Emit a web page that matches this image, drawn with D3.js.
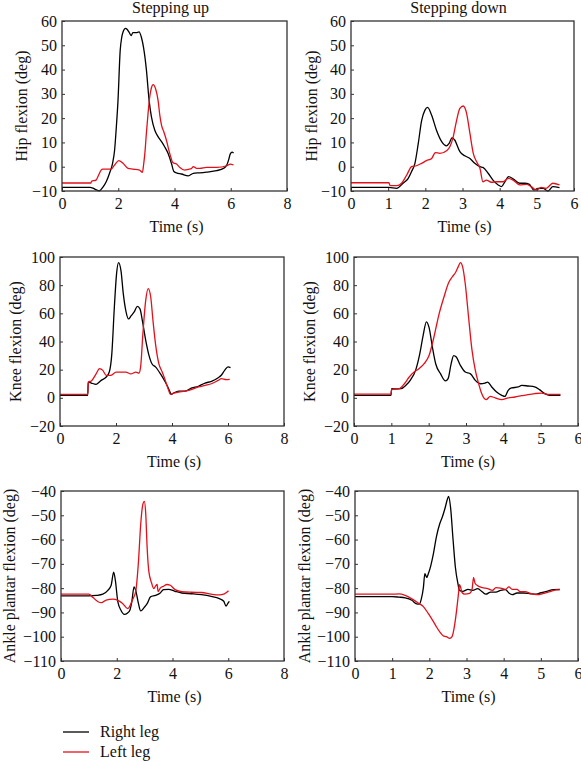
<!DOCTYPE html>
<html><head><meta charset="utf-8">
<script src="https://cdn.jsdelivr.net/npm/d3@7"></script>
<style>body{margin:0;background:#fff}svg{display:block}</style>
</head><body>
<svg id="c" width="581" height="762"></svg>
<script>
const seriesNames = ["Right leg", "Left leg"];
const colTitles = ["Stepping up", "Stepping down"];
const rowLabels = ["Hip flexion (deg)", "Knee flexion (deg)", "Ankle plantar flexion (deg)"];
const xLabel = "Time (s)";
const xTicksUp = [0, 2, 4, 6, 8];
const xTicksDown = [0, 1, 2, 3, 4, 5, 6];
const hipTicks = [-10, 0, 10, 20, 30, 40, 50, 60];
const kneeTicks = [-20, 0, 20, 40, 60, 80, 100];
const ankleTicks = [-110, -100, -90, -80, -70, -60, -50, -40];

const hipUpRight = [[0,-8.5],[1.0,-8.5],[1.1,-8.8],[1.2,-9.4],[1.33,-9.9],[1.45,-8.5],[1.58,-6],[1.69,-2.7],[1.8,1.5],[1.87,6.8],[1.93,16],[1.99,27],[2.07,48],[2.12,53],[2.17,55.5],[2.26,57],[2.32,56.5],[2.38,55.5],[2.46,54],[2.52,55.2],[2.64,55.2],[2.74,55.5],[2.82,53.4],[2.9,49],[3.0,40],[3.1,27],[3.18,20.5],[3.3,15],[3.42,12.3],[3.54,10.3],[3.65,8.2],[3.77,5.5],[3.89,1.4],[3.98,-2],[4.07,-2.5],[4.25,-3],[4.49,-3.8],[4.67,-2.7],[4.9,-2.5],[5.14,-2.2],[5.5,-1.6],[5.74,-0.7],[5.86,0.7],[5.93,3],[5.98,5.2],[6.05,6],[6.1,5.6]];
const hipUpLeft = [[0,-6.7],[1.03,-6.7],[1.05,-6],[1.21,-5.5],[1.3,-3.5],[1.39,-1.4],[1.45,-1],[1.75,-1],[1.87,0.7],[2.02,2.5],[2.17,1.4],[2.35,-0.7],[2.52,-1],[2.76,-1.4],[2.86,-2.3],[2.9,0.7],[2.95,6],[3.0,13.7],[3.06,22],[3.12,28.8],[3.18,32.5],[3.24,33.8],[3.33,32],[3.42,27],[3.48,21],[3.54,17],[3.62,14.4],[3.71,11],[3.83,5.5],[3.95,1.6],[4.07,1.1],[4.19,-0.3],[4.37,-1.4],[4.49,-1.1],[4.6,-0.8],[4.67,0],[4.79,-0.7],[4.9,-0.7],[5.14,-0.3],[5.5,-0.3],[5.86,0.4],[5.98,1.1],[6.1,0.7]];
const hipDownRight = [[0,-8.5],[1.02,-8.5],[1.23,-8.9],[1.4,-6.8],[1.54,-4.8],[1.63,-2],[1.72,1.4],[1.81,9.6],[1.9,19],[1.99,23.3],[2.06,24.4],[2.17,21.2],[2.3,15],[2.44,10.3],[2.57,8.6],[2.64,9.6],[2.72,12],[2.79,11],[2.93,6.2],[3.06,4.5],[3.2,3.4],[3.33,1.4],[3.47,0],[3.55,-0.3],[3.69,-2.7],[3.82,-5.5],[3.96,-7.5],[4.05,-8.2],[4.14,-6.2],[4.24,-4.1],[4.36,-5],[4.54,-6.8],[4.67,-6.8],[4.8,-7.3],[4.92,-9.6],[5.03,-8.9],[5.17,-8.9],[5.3,-10],[5.43,-8.2],[5.61,-8.6]];
const hipDownLeft = [[0,-6.6],[1.02,-6.6],[1.05,-7.8],[1.23,-7.8],[1.36,-6.8],[1.5,-3.4],[1.63,0],[1.76,0.4],[1.9,1.4],[2.03,2.5],[2.17,3.4],[2.27,5.8],[2.39,5.5],[2.57,6.6],[2.66,8.2],[2.75,12.3],[2.84,19],[2.93,24],[3.02,25],[3.11,22],[3.2,13.7],[3.29,5.5],[3.38,2],[3.47,-0.7],[3.55,-6.2],[3.64,-5.5],[3.78,-6.4],[3.91,-6.2],[4.09,-6.2],[4.23,-4.8],[4.36,-5.5],[4.54,-7.5],[4.72,-7.3],[4.85,-8.2],[4.99,-9.6],[5.12,-8.5],[5.25,-8.9],[5.43,-6.8],[5.61,-7.5]];
const kneeUpRight = [[0,1.8],[0.99,1.8],[1.01,11.2],[1.12,10.5],[1.29,9.6],[1.47,12.4],[1.65,14.8],[1.76,18.3],[1.85,31],[1.94,64],[2.02,88],[2.09,96],[2.18,90],[2.26,74],[2.35,62],[2.45,56],[2.53,58],[2.65,61],[2.76,65],[2.86,63],[2.94,55],[3.06,41],[3.18,30],[3.29,24],[3.41,22],[3.59,17],[3.76,11.2],[3.88,6.5],[3.98,2.5],[4.06,3.4],[4.24,4.8],[4.47,4.8],[4.71,7],[4.94,8.2],[5.18,10.5],[5.41,11.7],[5.65,14.3],[5.76,16],[5.88,19.5],[6.0,22],[6.09,21.4]];
const kneeUpLeft = [[0,2.5],[0.99,2.5],[1.01,11.2],[1.12,12],[1.29,17],[1.41,20.7],[1.53,19.5],[1.65,16],[1.82,16],[2.0,18.3],[2.35,18.3],[2.53,17],[2.71,18.3],[2.82,17.6],[2.88,22],[2.96,45.5],[3.06,69],[3.15,77.5],[3.24,71.6],[3.32,55],[3.41,38.5],[3.53,24.3],[3.65,18.3],[3.76,12.4],[3.88,5.3],[3.94,2.5],[4.06,3.4],[4.24,4.1],[4.47,4.8],[4.71,6],[4.94,7.7],[5.18,8.9],[5.41,10],[5.65,12.4],[5.76,13.6],[5.94,12.9],[6.06,13.1]];
const kneeDownRight = [[0,1.8],[0.99,1.8],[1.01,6.5],[1.12,6.3],[1.26,6.5],[1.39,8.9],[1.52,13],[1.65,19.5],[1.76,31],[1.85,44],[1.94,54],[2.01,50],[2.1,36],[2.19,24],[2.32,17],[2.45,12],[2.52,13.6],[2.6,24],[2.67,30],[2.74,29],[2.85,23],[2.98,18.3],[3.12,17],[3.25,12.4],[3.38,10],[3.51,10.5],[3.58,11.2],[3.69,7.7],[3.82,4.1],[3.96,1.8],[4.04,1],[4.13,5.3],[4.22,7],[4.4,7.7],[4.49,8.9],[4.66,8.4],[4.84,7.7],[4.97,5.8],[5.11,3],[5.24,1.8],[5.53,1.8]];
const kneeDownLeft = [[0,2.7],[0.99,2.7],[1.01,6],[1.21,6.5],[1.35,10],[1.48,14.8],[1.61,18.3],[1.74,20.7],[1.88,24.3],[2.01,30],[2.14,43],[2.27,58.6],[2.41,71.6],[2.54,82],[2.63,85.8],[2.72,89],[2.79,93],[2.85,96],[2.91,93],[2.98,81],[3.07,57],[3.16,34],[3.25,19.5],[3.34,10],[3.42,3],[3.54,-1.3],[3.65,1],[3.78,0],[3.96,-1.3],[4.13,0],[4.31,0.6],[4.49,1.5],[4.66,2.3],[4.84,3],[5.02,3.4],[5.19,2.5],[5.53,2.5]];
const ankleUpRight = [[0,-83.2],[1.0,-83.2],[1.27,-83],[1.5,-82.5],[1.68,-80.9],[1.8,-78.8],[1.89,-73.4],[1.95,-76.8],[2.04,-85.7],[2.15,-89.1],[2.27,-90.8],[2.39,-90.2],[2.47,-89.1],[2.54,-85.7],[2.62,-79.5],[2.68,-80.9],[2.78,-86.4],[2.86,-89.4],[2.98,-88],[3.09,-86.4],[3.21,-83.6],[3.39,-83],[3.56,-82],[3.68,-80.6],[3.86,-80.5],[4.09,-81.3],[4.33,-82],[4.68,-82.3],[5.04,-82.7],[5.39,-83.4],[5.68,-84.3],[5.84,-85.4],[5.92,-87.4],[5.98,-86.4],[6.04,-85.4]];
const ankleUpLeft = [[0,-82.5],[1.0,-82.5],[1.15,-83.9],[1.33,-85.6],[1.45,-86],[1.62,-84.9],[1.86,-84.5],[2.04,-85],[2.21,-86.3],[2.39,-88.4],[2.45,-87.8],[2.56,-84.9],[2.68,-81.4],[2.78,-68.9],[2.86,-53.6],[2.94,-45.3],[2.99,-44.3],[3.04,-49.4],[3.09,-63.3],[3.15,-73],[3.25,-77.9],[3.33,-80.2],[3.39,-79.2],[3.45,-78.5],[3.48,-81.4],[3.56,-80],[3.68,-79.2],[3.8,-78.5],[3.92,-78.8],[4.09,-80.6],[4.33,-81.4],[4.68,-81.7],[5.04,-81.8],[5.39,-82.5],[5.68,-82.8],[5.86,-82.4],[6.01,-81.1]];
const ankleDownRight = [[0,-83.5],[1.0,-83.5],[1.18,-83.7],[1.35,-84],[1.53,-85],[1.66,-86.5],[1.73,-86.6],[1.78,-84.7],[1.84,-79.8],[1.88,-74],[1.93,-75.6],[1.97,-74.2],[2.04,-70.7],[2.11,-65.8],[2.19,-58.9],[2.28,-53.5],[2.35,-50.7],[2.42,-47.2],[2.49,-43.2],[2.52,-42.2],[2.57,-46.6],[2.64,-60.3],[2.7,-71.3],[2.77,-78.2],[2.81,-80.9],[2.9,-81.3],[3.04,-80.5],[3.17,-80.9],[3.3,-80.2],[3.43,-81.6],[3.52,-82.5],[3.65,-81.6],[3.79,-81.6],[3.92,-80.9],[4.05,-80.6],[4.14,-82],[4.23,-82.7],[4.36,-82],[4.54,-82],[4.72,-82.3],[4.85,-82.5],[4.98,-82],[5.16,-81.3],[5.34,-80.6],[5.51,-80.5]];
const ankleDownLeft = [[0,-82.5],[1.0,-82.5],[1.18,-82.4],[1.35,-83],[1.53,-84.4],[1.71,-86.2],[1.84,-87.6],[1.97,-90.4],[2.11,-93.8],[2.19,-95.9],[2.28,-98],[2.37,-99.6],[2.46,-100],[2.55,-100.7],[2.61,-100],[2.68,-95.2],[2.74,-88.3],[2.79,-81.4],[2.81,-78.6],[2.84,-79.5],[2.88,-81.8],[2.95,-82.5],[3.08,-82.2],[3.15,-80.4],[3.19,-75.6],[3.23,-78],[3.3,-79],[3.43,-79.8],[3.57,-80.2],[3.7,-80.9],[3.79,-79.8],[3.92,-80],[4.05,-80.5],[4.14,-79.5],[4.23,-80.5],[4.36,-80.5],[4.44,-81.4],[4.58,-81.4],[4.72,-82.2],[4.9,-82.7],[5.07,-82.2],[5.25,-81.4],[5.43,-80.7],[5.51,-80.7]];

const colors = ["#000000", "#e3101b"];
const FONT = "'Liberation Serif', 'DejaVu Serif', serif";

const panels = [
  {l:62, r:287, t:21, b:191, xMax:8, xt:xTicksUp, y:[-10,60], yt:hipTicks, lab:rowLabels[0], labX:26.5, title:colTitles[0], data:[hipUpRight, hipUpLeft]},
  {l:351, r:574, t:21, b:191, xMax:6, xt:xTicksDown, y:[-10,60], yt:hipTicks, lab:rowLabels[0], labX:316.5, title:colTitles[1], data:[hipDownRight, hipDownLeft]},
  {l:60, r:284, t:257, b:426, xMax:8, xt:xTicksUp, y:[-20,100], yt:kneeTicks, lab:rowLabels[1], labX:20.5, data:[kneeUpRight, kneeUpLeft]},
  {l:354, r:578, t:257, b:426, xMax:6, xt:xTicksDown, y:[-20,100], yt:kneeTicks, lab:rowLabels[1], labX:314.5, data:[kneeDownRight, kneeDownLeft]},
  {l:61, r:284, t:491, b:661, xMax:8, xt:xTicksUp, y:[-110,-40], yt:ankleTicks, lab:rowLabels[2], labX:14.5, data:[ankleUpRight, ankleUpLeft]},
  {l:355, r:578, t:491, b:661, xMax:6, xt:xTicksDown, y:[-110,-40], yt:ankleTicks, lab:rowLabels[2], labX:310, data:[ankleDownRight, ankleDownLeft]}
];

const svg = d3.select("#c");
const fmt = d => d < 0 ? "\u2212" + Math.abs(d) : String(d);

panels.forEach(p => {
  const x = d3.scaleLinear().domain([0, p.xMax]).range([p.l, p.r]);
  const y = d3.scaleLinear().domain(p.y).range([p.b, p.t]);
  const g = svg.append("g");

  const line = d3.line().x(d => x(d[0])).y(d => y(d[1])).curve(d3.curveMonotoneX);
  p.data.forEach((s, i) => {
    g.append("path").attr("d", line(s)).attr("fill", "none")
      .attr("stroke", colors[i]).attr("stroke-width", 1.3).attr("stroke-linejoin", "round");
  });

  const xa = g.append("g").attr("transform", `translate(0,${p.b})`)
    .call(d3.axisBottom(x).tickValues(p.xt).tickFormat(fmt).tickSize(-3).tickPadding(7));
  const ya = g.append("g").attr("transform", `translate(${p.l},0)`)
    .call(d3.axisLeft(y).tickValues(p.yt).tickFormat(fmt).tickSize(-3).tickPadding(5));
  [xa, ya].forEach(a => {
    a.select(".domain").remove();
    a.selectAll("line").attr("stroke", "#333");
    a.selectAll("text").attr("font-family", FONT).attr("font-size", 16).attr("fill", "#111");
  });

  g.append("rect").attr("x", p.l).attr("y", p.t).attr("width", p.r - p.l).attr("height", p.b - p.t)
    .attr("fill", "none").attr("stroke", "#333").attr("stroke-width", 1.3);

  g.append("text").attr("x", (p.l + p.r) / 2 + 2).attr("y", p.b + 41)
    .attr("text-anchor", "middle").attr("font-family", FONT).attr("font-size", 16).attr("fill", "#111").text(xLabel);

  g.append("text").attr("transform", `translate(${p.labX},${(p.t + p.b) / 2}) rotate(-90)`)
    .attr("text-anchor", "middle").attr("font-family", FONT).attr("font-size", 16).attr("fill", "#111").text(p.lab);

  if (p.title) {
    g.append("text").attr("x", (p.l + p.r) / 2 - 4).attr("y", 13)
      .attr("text-anchor", "middle").attr("font-family", FONT).attr("font-size", 16).attr("fill", "#111").text(p.title);
  }
});

const leg = svg.append("g");
seriesNames.forEach((n, i) => {
  const yy = 732 + i * 20;
  leg.append("line").attr("x1", 63).attr("x2", 89).attr("y1", yy).attr("y2", yy)
    .attr("stroke", colors[i]).attr("stroke-width", 1.3);
  leg.append("text").attr("x", 100).attr("y", yy + 5).attr("font-family", FONT).attr("font-size", 16)
    .attr("fill", "#111").text(n);
});
</script>
</body></html>
